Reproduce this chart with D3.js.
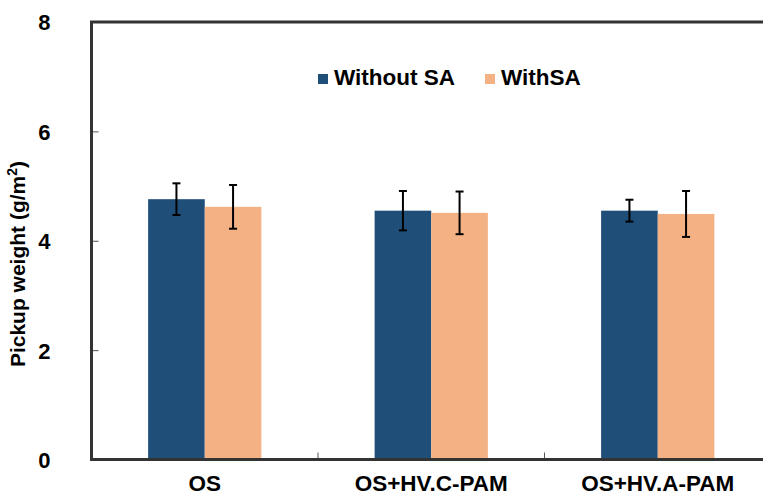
<!DOCTYPE html>
<html>
<head>
<meta charset="utf-8">
<script src="https://cdn.jsdelivr.net/npm/d3@7"></script>
<style>
  html, body { margin: 0; padding: 0; background: #fff; }
  svg { display: block; }
  text { font-family: "Liberation Sans", Arial, sans-serif; font-weight: bold; fill: #000; }
</style>
</head>
<body>
<svg id="chart" width="763" height="495"></svg>
<script>
const categories = ["OS", "OS+HV.C-PAM", "OS+HV.A-PAM"];
const seriesNames = ["Without SA", "WithSA"];
const withoutSA = [4.76, 4.55, 4.55];
const withoutSAErr = [0.29, 0.36, 0.20];
const withSA = [4.62, 4.51, 4.49];
const withSAErr = [0.40, 0.39, 0.42];
const yTicks = [0, 2, 4, 6, 8];
const colors = ["#1F4E79", "#F4B183"];

(function () {
const svg = d3.select("#chart");
const pLeft = 91.5, pRight = 771, pTop = 22, pBottom = 459.5;

const x = d3.scaleBand().domain(categories).range([pLeft, pRight]).padding(0);
const bw = x.bandwidth();
const xs = d3.scaleBand().domain(seriesNames).range([bw * 0.25, bw * 0.75]).padding(0);
const y = d3.scaleLinear().domain([0, 8]).range([pBottom, pTop]);

const series = [
  { name: seriesNames[0], values: withoutSA, errs: withoutSAErr, color: colors[0] },
  { name: seriesNames[1], values: withSA, errs: withSAErr, color: colors[1] }
];

// bars
series.forEach(s => {
  svg.append("g").selectAll("rect").data(categories).join("rect")
    .attr("x", c => x(c) + xs(s.name))
    .attr("width", xs.bandwidth())
    .attr("y", (c, i) => y(s.values[i]))
    .attr("height", (c, i) => y(0) - y(s.values[i]))
    .attr("fill", s.color);
});

// error bars
series.forEach(s => {
  const g = svg.append("g").attr("stroke", "#000").attr("stroke-width", 2);
  categories.forEach((c, i) => {
    const cx = x(c) + xs(s.name) + xs.bandwidth() / 2;
    const hi = y(s.values[i] + s.errs[i]);
    const lo = y(s.values[i] - s.errs[i]);
    g.append("line").attr("x1", cx).attr("x2", cx).attr("y1", hi).attr("y2", lo);
    g.append("line").attr("x1", cx - 4).attr("x2", cx + 4).attr("y1", hi).attr("y2", hi);
    g.append("line").attr("x1", cx - 4).attr("x2", cx + 4).attr("y1", lo).attr("y2", lo);
  });
});

// y axis
const yAxis = d3.axisLeft(y).tickValues(yTicks).tickSize(-7).tickPadding(41).tickFormat(d3.format("d"));
const yg = svg.append("g").attr("transform", `translate(${pLeft},0)`).call(yAxis);
yg.select(".domain").remove();
yg.selectAll(".tick line").attr("stroke", "#555").attr("stroke-width", 1);
yg.selectAll(".tick text").attr("font-size", 22).attr("font-family", "Liberation Sans, Arial, sans-serif")
  .attr("font-weight", "bold").attr("fill", "#000").attr("dy", "0.36em");

// x axis
const xAxis = d3.axisBottom(x).tickSize(0).tickPadding(16);
const xg = svg.append("g").attr("transform", `translate(0,${pBottom})`).call(xAxis);
xg.select(".domain").remove();
xg.selectAll(".tick text").attr("font-size", 22.5).attr("font-family", "Liberation Sans, Arial, sans-serif")
  .attr("font-weight", "bold").attr("fill", "#000").attr("dy", "0.71em");
// category separator ticks
svg.append("g").selectAll("line").data(categories.slice(1)).join("line")
  .attr("x1", c => x(c)).attr("x2", c => x(c))
  .attr("y1", pBottom).attr("y2", pBottom - 7)
  .attr("stroke", "#555").attr("stroke-width", 1);

// frame lines (top, left, bottom)
const frame = svg.append("g").attr("stroke", "#333").attr("stroke-width", 3).attr("fill", "none");
frame.append("path").attr("d", `M${pRight},${pTop}H${pLeft}V${pBottom}H${pRight}`);

// y axis title
svg.append("text")
  .attr("transform", `translate(25,264) rotate(-90)`)
  .attr("text-anchor", "middle")
  .attr("font-size", 21)
  .html('Pickup weight (g/m<tspan baseline-shift="super" font-size="14">2</tspan>)');

// legend
const legend = svg.append("g");
const legendItems = [
  { name: seriesNames[0], color: colors[0], x: 318 },
  { name: seriesNames[1], color: colors[1], x: 485 }
];
legendItems.forEach(it => {
  legend.append("rect").attr("x", it.x).attr("y", 74).attr("width", 10).attr("height", 10).attr("fill", it.color);
  legend.append("text").attr("x", it.x + 16).attr("y", 85).attr("font-size", 22.5).text(it.name);
});
})();
</script>
</body>
</html>
